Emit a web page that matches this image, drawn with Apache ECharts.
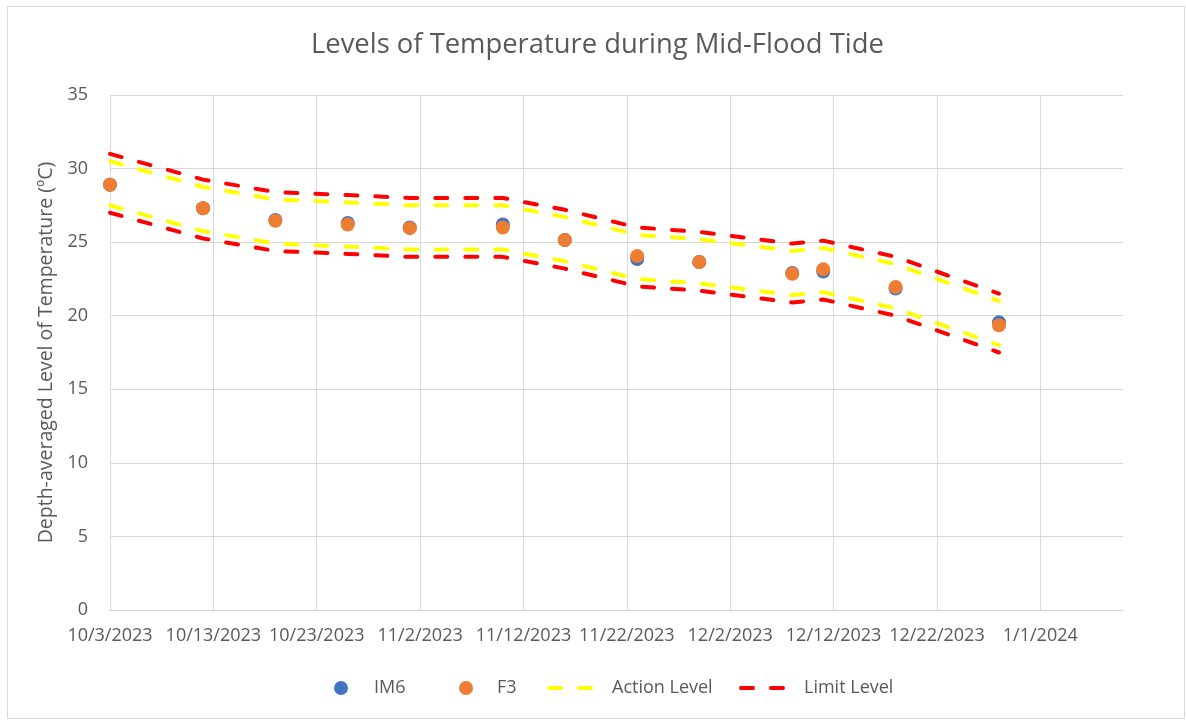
<!DOCTYPE html>
<html>
<head>
<meta charset="utf-8">
<script src="https://cdn.jsdelivr.net/npm/echarts@6/dist/echarts.min.js"></script>
<style>
html,body{margin:0;padding:0;background:#fff;}
#chart{width:1186px;height:720px;}
</style>
</head>
<body>
<div id="chart"></div>
<script>
// ---- data ----
const dates = ['2023-10-03','2023-10-12','2023-10-19','2023-10-26','2023-11-01','2023-11-10','2023-11-16','2023-11-23','2023-11-29','2023-12-08','2023-12-11','2023-12-18','2023-12-28'];
const im6 = [28.9, 27.3, 26.5, 26.3, 26.0, 26.2, 25.15, 23.85, 23.65, 22.9, 23.0, 21.85, 19.55];
const f3  = [28.9, 27.3, 26.45, 26.2, 25.95, 26.0, 25.15, 24.05, 23.65, 22.85, 23.15, 21.95, 19.35];
const actionUpper = [30.5, 28.75, 27.9, 27.7, 27.5, 27.5, 26.7, 25.5, 25.2, 24.4, 24.6, 23.5, 21.0];
const actionLower = [27.5, 25.75, 24.9, 24.7, 24.5, 24.5, 23.7, 22.5, 22.2, 21.4, 21.6, 20.5, 18.0];
const limitUpper  = [31.0, 29.25, 28.4, 28.2, 28.0, 28.0, 27.2, 26.0, 25.7, 24.9, 25.1, 24.0, 21.5];
const limitLower  = [27.0, 25.25, 24.4, 24.2, 24.0, 24.0, 23.2, 22.0, 21.7, 20.9, 21.1, 20.0, 17.5];
const xTickLabels = ['10/3/2023','10/13/2023','10/23/2023','11/2/2023','11/12/2023','11/22/2023','12/2/2023','12/12/2023','12/22/2023','1/1/2024'];
const yTickLabels = ['0','5','10','15','20','25','30','35'];
const legendNames = ['IM6', 'F3', 'Action Level', 'Limit Level'];

// day offsets from the axis start (10/3/2023)
const origin = Date.UTC(2023, 9, 3);
function dayOffset(s) {
  const p = s.split('-').map(Number);
  return Math.round((Date.UTC(p[0], p[1] - 1, p[2]) - origin) / 86400000);
}
const xs = dates.map(dayOffset);
const pairs = arr => arr.map((v, i) => [xs[i], v]);

const FONT = 'Open Sans';
const GREY = '#595959';
const dash = [12, 18];

function legendAt(name, left, textPad, isLine) {
  const item = {name: name, textStyle: {padding: [0, 0, 0, textPad]}};
  if (isLine) {
    item.itemStyle = {opacity: 0};
    item.lineStyle = {width: 4, type: dash, cap: 'round'};
  } else {
    item.icon = 'circle';
  }
  return {
    left: left, top: 679, padding: 0,
    itemWidth: 48, itemHeight: 14,
    textStyle: {fontFamily: FONT, fontSize: 18, color: GREY},
    data: [item]
  };
}

const chart = echarts.init(document.getElementById('chart'), null, {renderer: 'canvas'});

chart.setOption({
  backgroundColor: '#ffffff',
  animation: false,
  textStyle: {fontFamily: FONT},
  title: {
    text: 'Levels of Temperature during Mid-Flood Tide',
    left: 306,
    top: 27,
    textStyle: {fontFamily: FONT, fontSize: 27.4, fontWeight: 'normal', color: GREY}
  },
  graphic: [{
    type: 'rect', shape: {x: 7.5, y: 6.5, width: 1177, height: 712},
    style: {fill: 'none', stroke: '#d9d9d9', lineWidth: 1}, silent: true, z: -1
  }],
  legend: [
    legendAt(legendNames[0], 334, 4, false),
    legendAt(legendNames[1], 459, 2, false),
    legendAt(legendNames[2], 547, 10, true),
    legendAt(legendNames[3], 739, 10, true)
  ],
  grid: {left: 110, right: 63, top: 95, bottom: 110, containLabel: false},
  xAxis: {
    type: 'value',
    min: 0,
    max: 98,
    interval: 10,
    axisLine: {show: true, lineStyle: {color: '#d0d0d0', width: 1}},
    axisTick: {show: false},
    axisLabel: {
      margin: 17,
      fontFamily: FONT, fontSize: 18, color: GREY,
      showMaxLabel: false,
      formatter: v => (v % 10 === 0 && xTickLabels[v / 10]) ? xTickLabels[v / 10] : ''
    },
    splitLine: {show: true, showMaxLine: false, lineStyle: {color: '#d9d9d9', width: 1}}
  },
  yAxis: {
    type: 'value',
    min: 0,
    max: 35,
    interval: 5,
    name: 'Depth-averaged Level of Temperature (ºC)',
    nameLocation: 'middle',
    nameGap: 47,
    nameRotate: 90,
    nameTextStyle: {fontFamily: FONT, fontSize: 19.5, color: GREY},
    axisLine: {show: false},
    axisTick: {show: false},
    axisLabel: {
      margin: 22, fontFamily: FONT, fontSize: 18, color: GREY,
      formatter: v => yTickLabels[v / 5]
    },
    splitLine: {show: true, lineStyle: {color: '#d9d9d9', width: 1}}
  },
  series: [
    {name: legendNames[0], type: 'scatter', data: pairs(im6), symbolSize: 14,
     itemStyle: {color: '#4472C4', opacity: 1}, z: 3},
    {name: legendNames[1], type: 'scatter', data: pairs(f3), symbolSize: 14,
     itemStyle: {color: '#ED7D31', opacity: 1}, z: 4},
    {name: legendNames[2], type: 'line', data: pairs(actionUpper), showSymbol: false, symbol: 'none',
     lineStyle: {color: '#FFFF00', width: 4, type: dash, cap: 'round'}, itemStyle: {color: '#FFFF00'}, z: 5},
    {name: legendNames[2], type: 'line', data: pairs(actionLower), showSymbol: false, symbol: 'none',
     lineStyle: {color: '#FFFF00', width: 4, type: dash, cap: 'round'}, itemStyle: {color: '#FFFF00'}, z: 5},
    {name: legendNames[3], type: 'line', data: pairs(limitUpper), showSymbol: false, symbol: 'none',
     lineStyle: {color: '#FF0000', width: 4, type: dash, cap: 'round'}, itemStyle: {color: '#FF0000'}, z: 6},
    {name: legendNames[3], type: 'line', data: pairs(limitLower), showSymbol: false, symbol: 'none',
     lineStyle: {color: '#FF0000', width: 4, type: dash, cap: 'round'}, itemStyle: {color: '#FF0000'}, z: 6}
  ]
});
</script>
</body>
</html>
